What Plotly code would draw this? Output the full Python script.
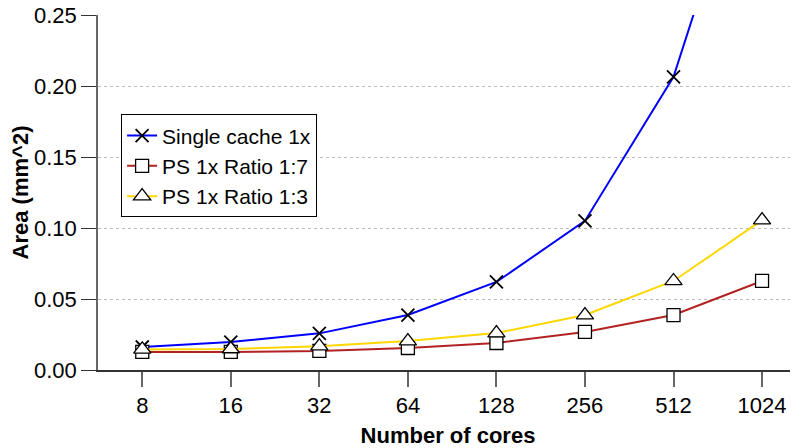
import plotly.graph_objects as go

cores = ["8", "16", "32", "64", "128", "256", "512", "1024"]
single_cache = [0.0162, 0.0197, 0.0258, 0.0387, 0.0620, 0.1050, 0.2065, 0.400]
ps_ratio_1_7 = [0.0127, 0.0127, 0.0134, 0.0155, 0.0190, 0.0268, 0.0387, 0.0627]
ps_ratio_1_3 = [0.0145, 0.0148, 0.0168, 0.0204, 0.0260, 0.0387, 0.0627, 0.1055]

FONT = "Liberation Sans, Arial, sans-serif"

fig = go.Figure()
fig.add_trace(go.Scatter(
    x=cores, y=single_cache, name="Single cache 1x", mode="lines+markers",
    line=dict(color="#0000ff", width=2),
    marker=dict(symbol="x-thin", size=13, color="black", line=dict(color="black", width=1.8)),
))
fig.add_trace(go.Scatter(
    x=cores, y=ps_ratio_1_7, name="PS 1x Ratio 1:7", mode="lines+markers",
    line=dict(color="#b22222", width=2),
    marker=dict(symbol="square", size=13, color="white", line=dict(color="black", width=1.3)),
))
fig.add_trace(go.Scatter(
    x=cores, y=ps_ratio_1_3, name="PS 1x Ratio 1:3", mode="lines+markers",
    line=dict(color="#ffd700", width=2),
    marker=dict(symbol="triangle-up", size=15, color="white", line=dict(color="black", width=1.3)),
))

# page has an 8px body margin; figure is sized/offset to compensate
fig.update_layout(
    width=790, height=440,
    margin=dict(l=90, r=0, t=7, b=78),
    paper_bgcolor="white", plot_bgcolor="white",
    font=dict(family=FONT, size=22, color="black"),
    showlegend=True,
    legend=dict(
        x=0.033, y=0.72, xanchor="left", yanchor="top",
        bgcolor="white", bordercolor="black", borderwidth=1,
        font=dict(family=FONT, size=21, color="black"),
        itemwidth=30, tracegroupgap=0,
    ),
)
fig.update_xaxes(
    type="category", range=[-0.5, 7.406], automargin=False,
    showline=True, linecolor="#333333", linewidth=1.5,
    ticks="outside", ticklen=15, tickcolor="#666666", tickwidth=1.5,
    showgrid=False, zeroline=False, ticklabeloverflow="allow",
    tickfont=dict(family=FONT, size=22, color="black"),
    title=dict(text="<b>Number of cores</b>", font=dict(family=FONT, size=22, color="black"), standoff=14),
)
fig.update_yaxes(
    range=[0, 0.25], tickvals=[0, 0.05, 0.10, 0.15, 0.20, 0.25], tickformat=".2f",
    automargin=False,
    showline=True, linecolor="#666666", linewidth=1.5,
    ticks="outside", ticklen=15, tickcolor="#333333", tickwidth=1.2,
    showgrid=True, gridcolor="#bbbbbb", griddash="dot", gridwidth=1,
    zeroline=False, ticklabeloverflow="allow",
    tickfont=dict(family=FONT, size=22, color="black"),
    title=dict(text="<b>Area (mm^2)</b>", font=dict(family=FONT, size=22, color="black"), standoff=0),
)

fig.write_html("out.html")
